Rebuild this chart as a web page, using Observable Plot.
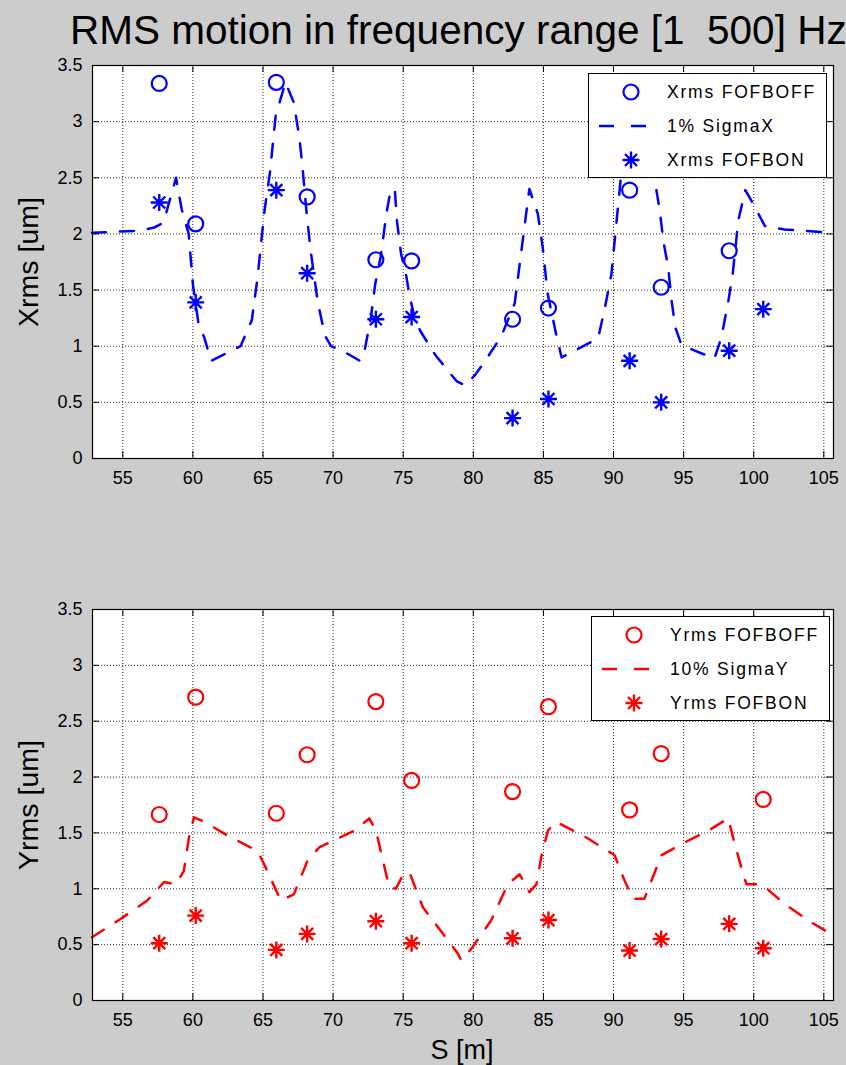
<!DOCTYPE html>
<html>
<head>
<meta charset="utf-8">
<script src="https://cdn.jsdelivr.net/npm/d3@7"></script>
<script src="https://cdn.jsdelivr.net/npm/@observablehq/plot@0.6"></script>
<style>
  body { margin: 0; background: #cccccc; }
  #fig { position: relative; width: 846px; height: 1065px; overflow: hidden; background: #cccccc;
         font-family: "Liberation Sans", Arial, Helvetica, sans-serif; color: #000; }
  .title { position: absolute; left: 70px; top: 10px; font-size: 40.5px; line-height: 40.5px; white-space: pre; }
  .ylab { position: absolute; font-size: 28.5px; line-height: 28.5px; white-space: nowrap;
          transform: translate(-50%, -50%) rotate(-90deg); }
  .xlab { position: absolute; font-size: 27px; line-height: 27px; white-space: nowrap;
          transform: translate(-50%, -50%); }
  .panel { position: absolute; left: 0; }
  .legend { position: absolute; background: #fff; border: 1px solid #000; box-sizing: border-box; }
  .legend .row { position: absolute; left: 0; height: 34px; display: flex; align-items: center; }
  .legend .row span { font-size: 17.5px; letter-spacing: 1.8px; white-space: nowrap; }
</style>
</head>
<body>
<div id="fig">
  <div class="title">RMS motion in frequency range [1  500] Hz</div>
  <div id="topPanel" class="panel" style="top:55px"></div>
  <div id="botPanel" class="panel" style="top:595px"></div>
  <div class="ylab" style="left:28px; top:261.5px">Xrms [um]</div>
  <div class="ylab" style="left:28px; top:804.5px">Yrms [um]</div>
  <div class="xlab" style="left:462px; top:1050px">S [m]</div>
</div>
<script>
// BPM positions along the line [m]
const bpmS = [57.6, 60.2, 65.95, 68.15, 73.05, 75.6, 82.8, 85.36, 91.15, 93.4, 98.25, 100.68];

// Horizontal RMS motion [um] (null: not shown)
const xrmsOff = [3.34, 2.09, 3.35, 2.33, 1.77, 1.76, 1.24, 1.34, 2.39, 1.525, 1.85, null];
const xrmsOn  = [2.28, 1.39, 2.39, 1.65, 1.24, 1.26, 0.36, 0.53, 0.87, 0.50, 0.96, 1.33];

// Vertical RMS motion [um]
const yrmsOff = [1.665, 2.715, 1.676, 2.20, 2.676, 1.97, 1.87, 2.63, 1.706, 2.21, null, 1.80];
const yrmsOn  = [0.513, 0.76, 0.453, 0.596, 0.71, 0.513, 0.557, 0.72, 0.447, 0.55, 0.686, 0.468];

// 1% of the horizontal beam size along S
const sigmaXS = [52.8, 56.3, 57.3, 57.9, 58.8, 59.2, 59.7, 60.0, 60.4, 60.8, 61.3, 63.4, 64.2, 64.6, 65.1, 65.5,
  65.9, 66.6, 67.2, 67.6, 67.8, 68.1, 68.4, 68.9, 69.4, 69.85, 70.8, 71.9, 72.2, 72.7, 73.0, 73.4, 73.8, 74.1,
  74.4, 74.55, 74.85, 75.2, 75.45, 75.8, 76.2, 77.3, 78.8, 79.4, 80.1, 80.8, 82.0, 82.95, 83.4, 83.8, 84.0,
  84.6, 84.95, 85.3, 85.9, 86.3, 88.9, 89.4, 89.85, 90.2, 90.6, 91.3, 91.9, 92.5, 92.95, 93.3, 93.55, 93.9,
  94.15, 94.4, 94.85, 95.8, 97.2, 97.7, 98.2, 98.5, 98.9, 99.4, 99.95, 100.8, 102.2, 105.7];
const sigmaXV = [2.01, 2.03, 2.06, 2.1, 2.5, 2.22, 2.0, 1.55, 1.2, 1.08, 0.87, 1.0, 1.23, 1.6, 2.2, 2.55,
  3.05, 3.35, 3.17, 2.85, 2.62, 2.2, 1.85, 1.4, 1.1, 1.0, 0.95, 0.87, 0.93, 1.26, 1.55, 1.8, 2.18, 2.39,
  2.40, 2.12, 1.82, 1.64, 1.45, 1.26, 1.14, 0.92, 0.69, 0.65, 0.74, 0.86, 1.09, 1.38, 1.82, 2.21, 2.40,
  2.18, 1.88, 1.47, 1.11, 0.9, 1.07, 1.35, 1.64, 2.09, 2.6, 3.15, 3.35, 3.0, 2.47, 2.21, 1.94, 1.7,
  1.4, 1.17, 1.01, 0.96, 0.89, 1.08, 1.41, 1.64, 2.12, 2.39, 2.27, 2.07, 2.04, 2.01];

// 10% of the vertical beam size along S
const sigmaYS = [52.8, 54.84, 56.74, 57.94, 58.77, 59.36, 59.72, 60.08, 60.8, 62.7, 64.6, 65.08, 66.27, 67.2,
  68.17, 69.0, 69.84, 71.5, 72.58, 73.06, 74.0, 74.48, 74.96, 75.44, 76.4, 77.58, 78.9, 79.13, 79.84, 81.27,
  82.46, 83.3, 84.0, 84.5, 84.84, 85.32, 85.9, 88.18, 90.08, 90.8, 91.4, 92.2, 92.7, 93.41, 94.84, 96.75,
  98.18, 98.65, 99.25, 99.49, 100.56, 102.2, 103.9, 105.7];
const sigmaYV = [0.566, 0.73, 0.895, 1.06, 1.04, 1.16, 1.46, 1.64, 1.60, 1.46, 1.34, 1.22, 0.895, 0.95,
  1.25, 1.37, 1.42, 1.52, 1.63, 1.52, 1.014, 1.0, 1.12, 1.15, 0.835, 0.64, 0.42, 0.36, 0.46, 0.716,
  1.04, 1.13, 0.97, 1.04, 1.28, 1.52, 1.60, 1.45, 1.30, 1.07, 0.91, 0.91, 1.07, 1.30, 1.40, 1.52,
  1.63, 1.40, 1.13, 1.04, 1.04, 0.865, 0.716, 0.58];

// Axis ticks
const sTicks = [55, 60, 65, 70, 75, 80, 85, 90, 95, 100, 105];
const rmsTicks = [0, 0.5, 1, 1.5, 2, 2.5, 3, 3.5];
const sDomain = [52.84, 105.69];
const rmsDomain = [0, 3.5];

// Eight-armed asterisk marker
const asterisk = {
  draw(ctx, size) {
    const r = Math.sqrt(size / Math.PI);
    for (const a of [0, Math.PI / 4, Math.PI / 2, 3 * Math.PI / 4]) {
      const dx = r * Math.cos(a), dy = r * Math.sin(a);
      ctx.moveTo(-dx, -dy);
      ctx.lineTo(dx, dy);
    }
  }
};

const pts = (s, v) => s.map((x, i) => ({s: x, v: v[i]})).filter(d => d.v != null);

function panel({height, marginTop, marginBottom, off, on, sigmaS, sigmaV, color}) {
  const marginLeft = 92, marginRight = 13, width = 846;
  const plotW = width - marginLeft - marginRight;
  const plotH = height - marginTop - marginBottom;
  const tick = 7;
  return Plot.plot({
    width, height, marginLeft, marginRight, marginTop, marginBottom,
    style: {background: "transparent", fontFamily: "'Liberation Sans', Arial, sans-serif", fontSize: "18px", color: "#000", overflow: "visible"},
    x: {domain: sDomain, ticks: sTicks, tickFormat: d => String(d), tickSize: 0, tickPadding: 13, label: null},
    y: {domain: rmsDomain, ticks: rmsTicks, tickFormat: d => String(d), tickSize: 0, tickPadding: 10, label: null},
    marks: [
      Plot.frame({fill: "#fff", stroke: null}),
      Plot.ruleX(sTicks, {x: d => d, stroke: "#000", strokeWidth: 1, strokeDasharray: "1,2", strokeOpacity: 0.85}),
      Plot.ruleY(rmsTicks, {y: d => d, stroke: "#000", strokeWidth: 1, strokeDasharray: "1,2", strokeOpacity: 0.85}),
      Plot.line(pts(sigmaS, sigmaV), {x: "s", y: "v", stroke: color, strokeWidth: 2.5, strokeDasharray: "14,14", curve: "linear"}),
      Plot.dot(pts(bpmS, off), {x: "s", y: "v", r: 7.5, stroke: color, strokeWidth: 2.2, fill: "none"}),
      Plot.dot(pts(bpmS, on), {x: "s", y: "v", r: 8.5, symbol: asterisk, stroke: color, strokeWidth: 2.4, fill: "none"}),
      Plot.tickX(sTicks, {x: d => d, insetTop: plotH - tick, stroke: "#000"}),
      Plot.tickX(sTicks, {x: d => d, insetBottom: plotH - tick, stroke: "#000"}),
      Plot.tickY(rmsTicks, {y: d => d, insetRight: plotW - tick, stroke: "#000"}),
      Plot.tickY(rmsTicks, {y: d => d, insetLeft: plotW - tick, stroke: "#000"}),
      Plot.frame({stroke: "#000", strokeWidth: 1.2})
    ]
  });
}

document.getElementById("topPanel").append(panel({
  height: 440, marginTop: 10, marginBottom: 37,
  off: xrmsOff, on: xrmsOn, sigmaS: sigmaXS, sigmaV: sigmaXV, color: "#0000ff"
}));
document.getElementById("botPanel").append(panel({
  height: 445, marginTop: 14, marginBottom: 40,
  off: yrmsOff, on: yrmsOn, sigmaS: sigmaYS, sigmaV: sigmaYV, color: "#ff0000"
}));

// Legend boxes drawn over the axes
function legend({left, top, color, labels}) {
  const box = document.createElement("div");
  box.className = "legend";
  Object.assign(box.style, {left: left + "px", top: top + "px", width: "239px", height: "105px"});
  const ns = "http://www.w3.org/2000/svg";
  const swatches = [
    g => { const c = document.createElementNS(ns, "circle");
           c.setAttribute("cx", 42); c.setAttribute("cy", 17); c.setAttribute("r", 7.5);
           c.setAttribute("fill", "none"); c.setAttribute("stroke", color); c.setAttribute("stroke-width", 2.2); g.append(c); },
    g => { const l = document.createElementNS(ns, "line");
           l.setAttribute("x1", 10); l.setAttribute("x2", 59); l.setAttribute("y1", 17); l.setAttribute("y2", 17);
           l.setAttribute("stroke", color); l.setAttribute("stroke-width", 2.5); l.setAttribute("stroke-dasharray", "15,17"); g.append(l); },
    g => { const p = document.createElementNS(ns, "path");
           const path = d3.path(); asterisk.draw(path, 8.5 * 8.5 * Math.PI);
           p.setAttribute("d", path.toString()); p.setAttribute("transform", "translate(42,17)");
           p.setAttribute("fill", "none"); p.setAttribute("stroke", color); p.setAttribute("stroke-width", 2.4); g.append(p); }
  ];
  labels.forEach((text, i) => {
    const row = document.createElement("div");
    row.className = "row";
    row.style.top = (1 + i * 34) + "px";
    const svg = document.createElementNS(ns, "svg");
    svg.setAttribute("width", 78); svg.setAttribute("height", 34);
    swatches[i](svg);
    const span = document.createElement("span");
    span.textContent = text;
    row.append(svg, span);
    box.append(row);
  });
  document.getElementById("fig").append(box);
}

legend({left: 588, top: 73, color: "#0000ff", labels: ["Xrms FOFBOFF", "1% SigmaX", "Xrms FOFBON"]});
legend({left: 591, top: 616, color: "#ff0000", labels: ["Yrms FOFBOFF", "10% SigmaY", "Yrms FOFBON"]});
</script>
</body>
</html>
